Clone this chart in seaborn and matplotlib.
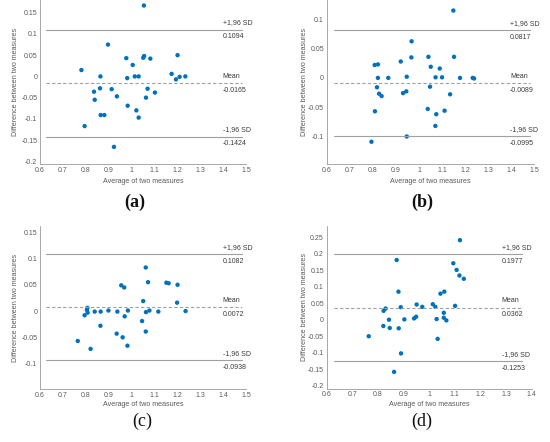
import numpy as np
import pandas as pd
import matplotlib
matplotlib.use("Agg")
import matplotlib.pyplot as plt
import seaborn as sns
from matplotlib.ticker import FuncFormatter, MultipleLocator

# ---------------- data ----------------
a_avg = [1.054, 0.897, 0.977, 1.005, 1.051, 1.055, 1.082, 1.201, 0.781, 0.864, 0.981,
         1.014, 1.031, 1.175, 1.194, 1.210, 1.235, 0.836, 0.862, 0.913, 0.839, 0.936,
         1.070, 1.063, 1.102, 0.983, 1.021, 1.031, 0.865, 0.881, 0.795, 0.923]
a_diff = [0.167, 0.075, 0.043, 0.027, 0.044, 0.048, 0.042, 0.050, 0.015, 0.000, -0.004,
          0.000, 0.000, 0.006, -0.007, -0.001, 0.000, -0.036, -0.028, -0.030, -0.055, -0.047,
          -0.029, -0.050, -0.038, -0.069, -0.080, -0.097, -0.091, -0.091, -0.117, -0.166]

b_avg = [1.149, 0.968, 0.921, 0.967, 1.041, 1.152, 1.051, 1.090, 0.808, 0.822, 0.822,
         0.867, 0.947, 1.072, 1.100, 1.178, 1.233, 1.239, 0.818, 0.827, 0.838, 0.931,
         0.945, 1.048, 1.135, 0.809, 1.038, 1.111, 1.075, 1.071, 0.947, 0.794]
b_diff = [0.115, 0.0625, 0.028, 0.035, 0.036, 0.036, 0.019, 0.016, 0.022, 0.023, 0.000,
          0.000, 0.002, 0.001, 0.001, 0.000, 0.000, -0.001, -0.016, -0.027, -0.031, -0.026,
          -0.023, -0.015, -0.028, -0.057, -0.053, -0.056, -0.062, -0.082, -0.100, -0.109]

c_avg = [1.062, 1.072, 1.152, 1.162, 1.201, 0.955, 0.968, 1.051, 1.199, 0.807, 0.805,
         0.808, 0.795, 0.839, 0.865, 0.899, 0.938, 0.984, 0.970, 1.063, 1.078, 1.117,
         1.236, 1.046, 0.864, 1.062, 0.935, 0.961, 0.765, 0.982, 0.821]
c_diff = [0.083, 0.055, 0.054, 0.053, 0.050, 0.049, 0.045, 0.019, 0.016, 0.006, 0.002,
          -0.003, -0.008, -0.001, -0.001, 0.001, -0.001, 0.001, -0.010, -0.002, 0.001, -0.001,
          0.000, -0.019, -0.028, -0.039, -0.043, -0.050, -0.057, -0.066, -0.072]

d_avg = [1.120, 0.873, 1.094, 1.107, 1.118, 1.135, 0.880, 1.044, 1.059, 0.951, 1.014,
         1.101, 0.889, 0.973, 1.024, 0.830, 0.822, 1.057, 0.949, 0.941, 1.057, 0.903,
         1.029, 0.843, 1.067, 0.821, 0.846, 0.881, 1.033, 0.764, 0.890, 0.863]
d_diff = [0.241, 0.181, 0.171, 0.151, 0.134, 0.124, 0.085, 0.079, 0.085, 0.046, 0.047,
          0.042, 0.038, 0.039, 0.039, 0.034, 0.027, 0.021, 0.009, 0.004, 0.006, 0.001,
          0.002, 0.000, -0.002, -0.019, -0.025, -0.026, -0.058, -0.050, -0.102, -0.158]

panel_letters = ["(a)", "(b)", "(c)", "(d)"]
upper_sd = [0.1094, 0.0817, 0.1082, 0.1977]
mean_diff = [-0.0165, -0.0089, 0.0072, 0.0362]
lower_sd = [-0.1424, -0.0995, -0.0938, -0.1253]
upper_label = "+1,96 SD"
mean_label = "Mean"
lower_label = "-1,96 SD"
x_label = "Average of two measures"
y_label = "Difference between two measures"

# ---------------- layout / style ----------------
sns.set_style("white")
plt.rcParams["font.family"] = ["Liberation Sans", "DejaVu Sans"]

fig = plt.figure(figsize=(5.5, 4.42), dpi=100)
W, H = 550, 442

def frac_rect(l, r, t, b):
    return [l / W, 1 - b / H, (r - l) / W, (b - t) / H]

rects = [frac_rect(40, 246, 0, 164.3),
         frac_rect(326.7, 534.3, 0, 164),
         frac_rect(40, 246, 226, 389.3),
         frac_rect(326.7, 531.7, 226, 388.7)]
xlims = [(0.6, 1.5), (0.6, 1.5), (0.6, 1.5), (0.6, 1.4)]
ylims = [(-0.207, 0.18), (-0.147, 0.133), (-0.149, 0.162), (-0.209, 0.284)]
ysteps = [0.05, 0.05, 0.05, 0.05]
line_span = [(0.027, 0.979), (0.037, 0.979), (0.027, 0.979), (0.037, 0.951)]
text_x = [0.887, 0.883, 0.887, 0.854]
ylab_x = [-0.12, -0.109, -0.12, -0.109]
xlab_y = [-0.106, -0.107, -0.096, -0.10]
letter_pos = [(135, 202), (422, 202), (142.7, 421), (422, 421)]
letter_weight = ["bold", "bold", "normal", "normal"]

avgs = [a_avg, b_avg, c_avg, d_avg]
diffs = [a_diff, b_diff, c_diff, d_diff]

axis_col = "#9a9a9a"
tick_col = "#5a5a5a"
txt_col = "#3a3a3a"
line_col = "#a0a0a0"
fs = 5

fmt = FuncFormatter(lambda v, p: ("%g" % round(v, 4)))

for i in range(4):
    ax = fig.add_axes(rects[i])
    df = pd.DataFrame({"avg": avgs[i], "diff": diffs[i]})
    sns.scatterplot(data=df, x="avg", y="diff", ax=ax, color="#0072BD",
                    s=10, edgecolor="none", linewidth=0)
    ax.set_xlim(*xlims[i])
    ax.set_ylim(*ylims[i])
    ax.xaxis.set_major_locator(MultipleLocator(0.1))
    ax.yaxis.set_major_locator(MultipleLocator(ysteps[i]))
    ax.xaxis.set_major_formatter(fmt)
    ax.yaxis.set_major_formatter(fmt)
    for s in ["top", "right"]:
        ax.spines[s].set_visible(False)
    for s in ["left", "bottom"]:
        ax.spines[s].set_color(axis_col)
        ax.spines[s].set_linewidth(0.6)
    ax.tick_params(direction="in", length=2, width=0.5, color=axis_col,
                   labelsize=fs, labelcolor=tick_col, pad=2)
    ax.set_xlabel(x_label, fontsize=5.1, color=tick_col)
    ax.set_ylabel(y_label, fontsize=5.1, color=tick_col)
    ax.xaxis.label.set_va("center")
    ax.yaxis.label.set_va("center")
    ax.xaxis.set_label_coords(0.5, xlab_y[i])
    ax.yaxis.set_label_coords(ylab_x[i], 0.5)

    x0, x1 = line_span[i]
    ax.axhline(upper_sd[i], x0, x1, color=line_col, lw=0.8)
    ax.axhline(lower_sd[i], x0, x1, color=line_col, lw=0.8)
    ax.axhline(mean_diff[i], x0, x1, color=line_col, lw=0.8, ls=(0, (3, 2)))

    tr = ax.get_yaxis_transform()
    for val, lab in [(upper_sd[i], upper_label), (mean_diff[i], mean_label),
                     (lower_sd[i], lower_label)]:
        ax.annotate(lab, (text_x[i], val), xycoords=tr, xytext=(0, 2.5),
                    textcoords="offset points", ha="left", va="bottom",
                    fontsize=fs, color=txt_col)
        ax.annotate("%.4f" % val, (text_x[i], val), xycoords=tr, xytext=(0, -2.5),
                    textcoords="offset points", ha="left", va="top",
                    fontsize=fs, color=txt_col)

    lx, ly = letter_pos[i]
    fig.text(lx / W, 1 - ly / H, panel_letters[i], ha="center", va="center",
             fontsize=13, fontweight=letter_weight[i],
             family=["Liberation Serif", "DejaVu Serif"], color="#111111")

fig.savefig("out.png", dpi=100)
